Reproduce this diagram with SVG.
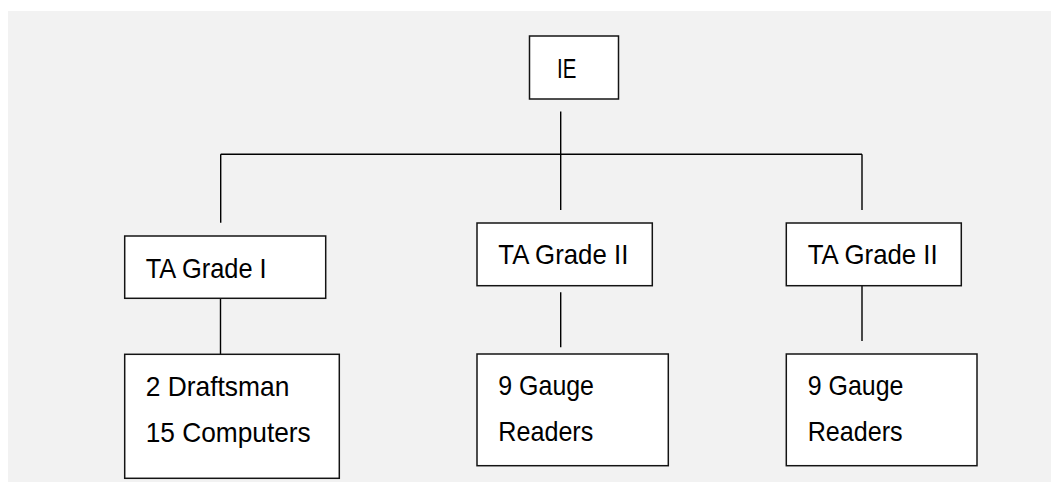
<svg xmlns="http://www.w3.org/2000/svg" width="1051" height="482" viewBox="0 0 1051 482">
  <style>
    .box { fill: #ffffff; stroke: #141414; stroke-width: 1.5; }
    .wire { stroke: #000000; stroke-width: 1.4; fill: none; }
    .lbl { font-family: "Liberation Sans", "Open Sans", sans-serif; font-size: 28px; fill: #000000; }
  </style>
  <!-- page background -->
  <rect x="0" y="0" width="1051" height="482" fill="#ffffff"/>
  <rect x="8" y="11" width="1043" height="471" fill="#f2f2f2"/>

  <!-- connectors -->
  <g id="connectors" class="wire">
    <line x1="560.7" y1="111.5" x2="560.7" y2="210"/>
    <line x1="220.7" y1="154.3" x2="862" y2="154.3"/>
    <line x1="220.7" y1="154.3" x2="220.7" y2="222.7"/>
    <line x1="862" y1="154.3" x2="862" y2="210"/>
    <line x1="220.5" y1="298.3" x2="220.5" y2="354.3"/>
    <line x1="560.7" y1="292.3" x2="560.7" y2="347.3"/>
    <line x1="862" y1="285.7" x2="862" y2="341"/>
  </g>

  <g id="ie">
    <rect class="box" x="529.5" y="36" width="89" height="63"/>
    <text class="lbl" x="557" y="78.3" textLength="19.3" lengthAdjust="spacingAndGlyphs">IE</text>
  </g>

  <g id="ta-grade-1">
    <rect class="box" x="124.7" y="236" width="201" height="62.3"/>
    <text class="lbl" x="145.7" y="278.3" textLength="121" lengthAdjust="spacingAndGlyphs">TA Grade I</text>
  </g>

  <g id="ta-grade-2a">
    <rect class="box" x="477" y="223" width="175.3" height="62.7"/>
    <text class="lbl" x="498.3" y="264.3" textLength="130" lengthAdjust="spacingAndGlyphs">TA Grade II</text>
  </g>

  <g id="ta-grade-2b">
    <rect class="box" x="786.3" y="223" width="175" height="62.7"/>
    <text class="lbl" x="807.7" y="264.3" textLength="130" lengthAdjust="spacingAndGlyphs">TA Grade II</text>
  </g>

  <g id="draftsmen">
    <rect class="box" x="124.7" y="354.3" width="214.6" height="124"/>
    <text class="lbl" x="145.7" y="396" textLength="143.7" lengthAdjust="spacingAndGlyphs">2 Draftsman</text>
    <text class="lbl" x="145.7" y="441.7" textLength="165" lengthAdjust="spacingAndGlyphs">15 Computers</text>
  </g>

  <g id="gauge-readers-a">
    <rect class="box" x="477" y="354" width="191.3" height="111.7"/>
    <text class="lbl" x="498.3" y="395" textLength="95.7" lengthAdjust="spacingAndGlyphs">9 Gauge</text>
    <text class="lbl" x="498.3" y="440.7" textLength="95" lengthAdjust="spacingAndGlyphs">Readers</text>
  </g>

  <g id="gauge-readers-b">
    <rect class="box" x="786.3" y="354" width="190.7" height="111.7"/>
    <text class="lbl" x="807.7" y="395" textLength="95.7" lengthAdjust="spacingAndGlyphs">9 Gauge</text>
    <text class="lbl" x="807.7" y="440.7" textLength="95" lengthAdjust="spacingAndGlyphs">Readers</text>
  </g>
</svg>
